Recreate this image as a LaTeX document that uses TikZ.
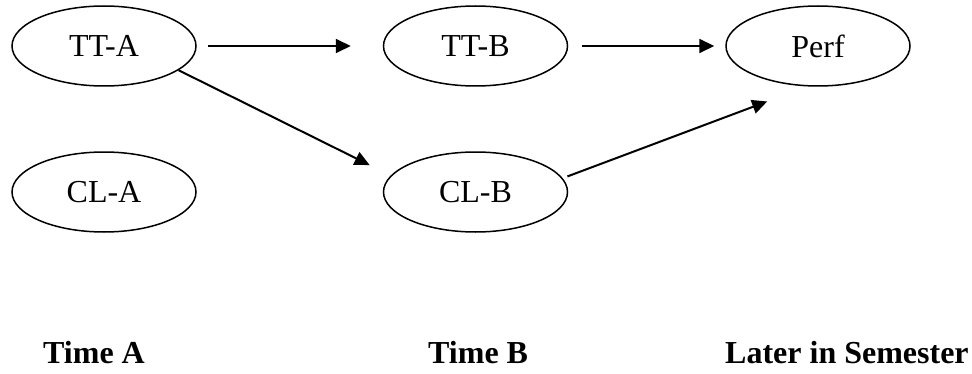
\documentclass[tikz,border=0pt]{standalone}
\usepackage{fontspec}
\setmainfont{Liberation Serif}
\usetikzlibrary{shapes.geometric,arrows.meta}
\begin{document}
\begin{tikzpicture}[x=1pt,y=1pt,
  state/.style={ellipse,draw,line width=1.5pt,minimum width=184pt,minimum height=80pt,inner sep=0pt,
    font=\fontsize{32}{38}\selectfont},
  arr/.style={line width=2pt,-{Triangle[length=15pt,width=14pt]}},
  timelabel/.style={anchor=base west,inner sep=0pt,font=\fontsize{32}{38}\selectfont\bfseries}]
\useasboundingbox (0,0) rectangle (972,373);
\node[state] (tta) at (104,327) {TT-A};
\node[state] (ttb) at (475.5,327) {TT-B};
\node[state] (perf) at (818,327) {Perf};
\node[state] (cla) at (104,181) {CL-A};
\node[state] (clb) at (475.5,181) {CL-B};
\draw[arr,shorten <=11pt,shorten >=32pt] (tta) -- (ttb);
\draw[arr,shorten <=14pt,shorten >=11pt] (ttb) -- (perf);
\draw[arr,shorten >=23.5pt] (tta.-18.9) -- (clb.169.7);
\draw[arr,shorten <=5pt,shorten >=42.7pt] (clb.9.2) -- (perf.-105.5);
\node[timelabel] (ta) at (43,10) {Time A};
\node[timelabel] (tb) at (428,10) {Time B};
\node[timelabel] (tl) at (725,10) {Later in Semester};
\end{tikzpicture}
\end{document}
